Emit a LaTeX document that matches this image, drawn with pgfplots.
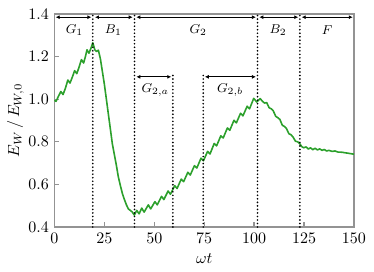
\documentclass[border=0pt]{standalone}
\usepackage{pgfplots}
\pgfplotsset{compat=1.18}
\usetikzlibrary{arrows.meta}
\definecolor{tabgreen}{RGB}{44,160,44}
\begin{document}
\begin{tikzpicture}
\begin{axis}[
  name=ax,
  scale only axis,
  width=187pt, height=133pt,
  xmin=0, xmax=150, ymin=0.4, ymax=1.4,
  xtick={0,25,50,75,100,125,150},
  ytick={0.4,0.6,0.8,1.0,1.2,1.4},
  yticklabel style={/pgf/number format/.cd,fixed,fixed zerofill,precision=1},
  xtick pos=bottom, ytick pos=left,
  tick align=inside,
  major tick length=3pt,
  axis line style={gray!85, line width=1pt},
  every tick/.style={gray!85, line width=0.8pt},
  xlabel={$\omega t$},
  ylabel={$E_W\,/\,E_{W,0}$},
  ylabel shift=-4pt,
  clip=false,
]
\addplot[tabgreen, line width=1pt, line join=round] coordinates {
(0,0.995)(0.8,0.99)(1.8,1.01)(3.2,1.036)(4.3,1.022)(5.5,1.052)(6.7,1.09)(7.8,1.076)(9,1.105)(10.1,1.134)(11.2,1.12)(12.3,1.15)(13.5,1.186)(14.6,1.17)(15.5,1.2)(16.3,1.232)(17.3,1.216)(18.3,1.24)(19.2,1.265)(20.2,1.232)(21,1.224)(22,1.23)(23,1.19)(24,1.13)(25,1.07)(26,1.0)(27,0.93)(28,0.86)(29,0.79)(30,0.74)(31,0.69)(32,0.635)(33,0.595)(34,0.558)(35,0.53)(36,0.505)(37,0.485)(38,0.478)(39,0.47)(40,0.456)(41.2,0.478)(42.4,0.462)
(43.7,0.489)(44.9,0.470)(47.0,0.504)(48.2,0.485)(50.3,0.519)(51.5,0.504)(53.6,0.544)(54.8,0.529)(56.9,0.569)(58.1,0.554)(60.2,0.594)(61.4,0.581)(63.5,0.625)(64.7,0.613)(66.8,0.657)(68.0,0.644)(70.1,0.688)(71.3,0.677)(73.4,0.723)(74.6,0.711)(76.7,0.755)(77.9,0.743)(80.0,0.792)(81.2,0.781)(83.3,0.828)(84.5,0.818)(86.6,0.865)(87.8,0.854)(89.9,0.901)(91.1,0.889)(93.2,0.934)(94.4,0.922)(96.5,0.967)(97.7,0.955)(99.8,1.004)(101.3,0.987)(103.0,1.003)(104.2,0.99)
(105.2,0.982)(106.3,0.984)(107.5,0.960)(108.6,0.955)(109.6,0.945)(110.8,0.92)(111.9,0.913)(112.9,0.905)(114.1,0.878)(115.2,0.872)(116.2,0.862)(117.4,0.838)(118.5,0.833)(119.5,0.822)(120.7,0.803)(121.8,0.8)(122.8,0.792)(123.8,0.778)
(124.8,0.772)(126,0.776)(127.1,0.766)(128.2,0.772)(129.4,0.763)(130.5,0.770)(131.7,0.762)(132.8,0.767)(134,0.760)(135.1,0.764)(136.3,0.757)(137.5,0.760)(139,0.755)(140.5,0.757)(142,0.752)(144,0.751)(146,0.748)(148,0.745)(150,0.742)
};
% vertical dotted lines
\pgfplotsset{dotline/.style={black, line width=1.15pt, line cap=round, dash pattern=on 0pt off 2.2pt}}
\addplot[dotline] coordinates {(19.2,0.4)(19.2,1.4)};
\addplot[dotline] coordinates {(40.1,0.4)(40.1,1.4)};
\addplot[dotline] coordinates {(101.7,0.4)(101.7,1.4)};
\addplot[dotline] coordinates {(122.9,0.4)(122.9,1.4)};
\addplot[dotline] coordinates {(59.3,0.4)(59.3,1.125)};
\addplot[dotline] coordinates {(74.5,0.4)(74.5,1.125)};
% arrows
\tikzset{dar/.style={{Latex[length=2.5pt,width=2.5pt]}-{Latex[length=2.5pt,width=2.5pt]}, line width=0.6pt}}
\draw[dar] (axis cs:0.6,1.385) -- (axis cs:18.5,1.385);
\draw[dar] (axis cs:20.3,1.385) -- (axis cs:39.2,1.385);
\draw[dar] (axis cs:41.0,1.385) -- (axis cs:100.9,1.385);
\draw[dar] (axis cs:102.6,1.385) -- (axis cs:122.1,1.385);
\draw[dar] (axis cs:123.8,1.385) -- (axis cs:149.4,1.385);
\draw[dar] (axis cs:41.0,1.105) -- (axis cs:58.5,1.105);
\draw[dar] (axis cs:75.3,1.105) -- (axis cs:100.9,1.105);
% labels
\node[font=\footnotesize] at (axis cs:10,1.325) {$G_1$};
\node[font=\footnotesize] at (axis cs:29.5,1.325) {$B_1$};
\node[font=\footnotesize] at (axis cs:72,1.325) {$G_2$};
\node[font=\footnotesize] at (axis cs:112,1.325) {$B_2$};
\node[font=\footnotesize] at (axis cs:136.5,1.325) {$F$};
\node[font=\footnotesize] at (axis cs:50.5,1.043) {$G_{2,a}$};
\node[font=\footnotesize] at (axis cs:88,1.043) {$G_{2,b}$};
\end{axis}
\pgfresetboundingbox
\path ([shift={(-34pt,-28pt)}]ax.south west) rectangle ([shift={(12.5pt,8.75pt)}]ax.north east);
\end{tikzpicture}
\end{document}
